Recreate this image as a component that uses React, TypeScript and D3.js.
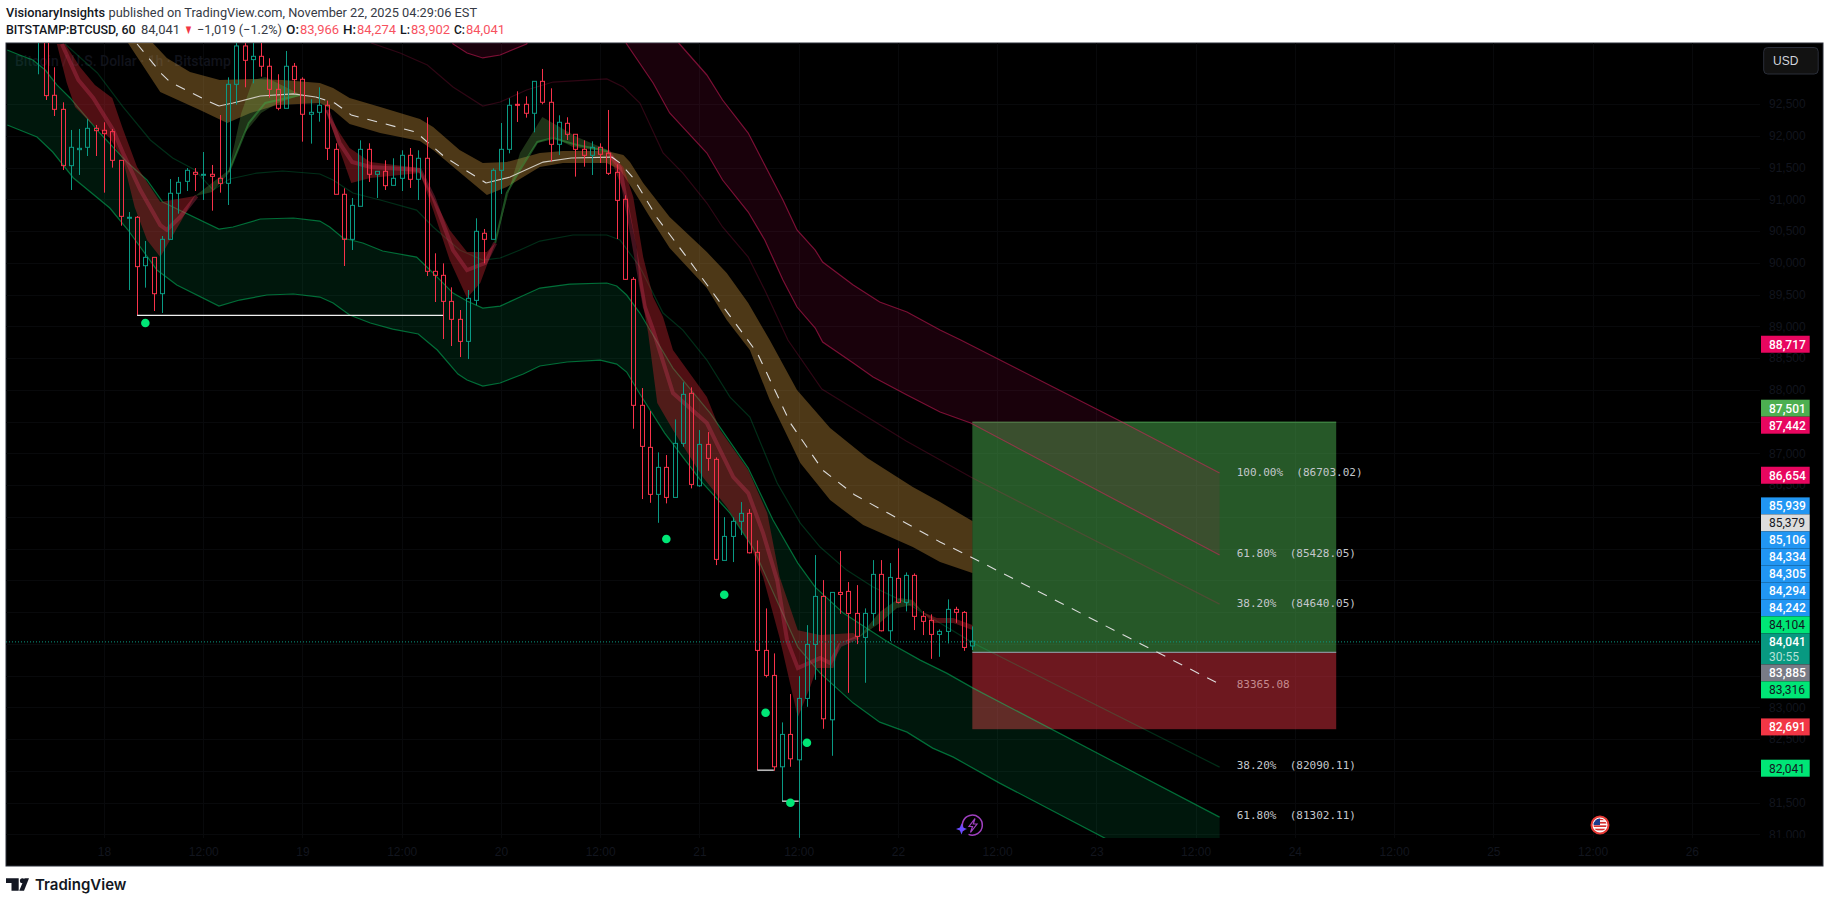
import * as d3 from "d3";
import React, { useRef, useEffect } from "react";

type Knot = [number, number]; // hours since Nov 18 00:00, price

// candles, one per hour, the first one is hour -8
const firstHour = -8;
const opens = [93600, 93750, 92637, 92416, 91529, 91781, 91818, 92117, 92086, 92065, 91613, 90705, 90716, 89954, 90085, 89513, 90369, 91094, 91282, 91424, 91388, 91393, 91330, 91251, 92810, 93414, 93199, 93251, 93094, 92731, 92432, 93094, 92889, 92338, 92369, 92480, 91786, 91078, 90369, 90889, 91786, 91393, 91440, 91219, 91330, 91692, 91314, 91645, 89865, 89802, 89392, 89109, 88762, 89408, 90464, 90369, 91456, 91786, 92495, 92495, 92354, 92857, 92527, 91865, 92196, 92023, 91786, 91692, 91818, 91724, 91424, 90999, 89739, 87755, 87093, 86353, 86778, 86305, 87156, 87944, 86488, 87140, 86904, 85313, 85691, 85928, 86054, 85440, 83896, 83502, 82063, 82573, 82173, 83140, 83990, 84746, 82803, 84809, 84825, 84478, 84100, 84478, 85093, 84205, 85030, 84652, 85077, 84432, 84369, 84148, 84195, 84542, 84494, 83966];
const highs = [94000, 94000, 93078, 92527, 92091, 92107, 92264, 92170, 92212, 92107, 91613, 90799, 90737, 90343, 90085, 90421, 91319, 91351, 91492, 91492, 91744, 91540, 92327, 92920, 93700, 93650, 93600, 93600, 93220, 92968, 93335, 93146, 92920, 92574, 92763, 92553, 91881, 91172, 91020, 91928, 91881, 91440, 91613, 91645, 91771, 91807, 91771, 92291, 90149, 89991, 89613, 89256, 89571, 90700, 90532, 91487, 92201, 92590, 92700, 92621, 92857, 93052, 92747, 92322, 92291, 92023, 91928, 91912, 91881, 92406, 91550, 91062, 89775, 88027, 87665, 87014, 86972, 87534, 88117, 88038, 87366, 87334, 86935, 85995, 85991, 86232, 86121, 85628, 84557, 83849, 82762, 83208, 83491, 84294, 85397, 85003, 84809, 85460, 84972, 84924, 84557, 85318, 85318, 85271, 85502, 85124, 85108, 84515, 84463, 84226, 84699, 84583, 84515, 84274];
const lows = [92968, 92563, 92311, 91461, 91146, 91382, 91681, 91681, 91104, 91498, 90584, 89571, 89172, 89608, 89240, 89209, 90369, 90773, 91130, 91130, 90988, 90820, 91104, 90910, 92490, 92763, 92826, 92931, 92600, 92401, 92432, 92669, 91907, 91876, 92222, 91618, 91078, 89949, 90201, 90889, 91272, 91020, 91146, 91219, 91130, 91178, 90988, 89791, 89382, 88799, 88689, 88515, 88484, 89329, 89991, 90369, 91083, 91723, 92217, 92285, 92054, 92495, 91598, 91697, 91933, 91356, 91513, 91382, 91571, 91382, 90374, 89729, 87386, 86279, 86220, 85905, 86211, 86305, 87103, 86447, 86473, 86724, 85239, 85313, 85287, 85712, 85423, 82010, 83471, 82000, 81522, 82063, 80944, 83008, 83433, 82661, 82236, 84472, 83228, 83995, 83386, 84283, 84195, 84042, 84636, 84510, 84216, 84137, 83763, 83795, 84006, 84330, 83889, 83902];
const closes = [93800, 92632, 92416, 91529, 91818, 91802, 92117, 92080, 92033, 91613, 90731, 90716, 89939, 90085, 89513, 90369, 91094, 91267, 91456, 91393, 91393, 91361, 91251, 92810, 93414, 93188, 93251, 93094, 92731, 92432, 93094, 92884, 92338, 92369, 92480, 91802, 91078, 90369, 90904, 91786, 91393, 91440, 91214, 91330, 91692, 91314, 91645, 89865, 89802, 89392, 89109, 88762, 89440, 90495, 90369, 91456, 91786, 92480, 92485, 92354, 92857, 92527, 91865, 92212, 92023, 91786, 91692, 91818, 91708, 91408, 90983, 89739, 87755, 87109, 86353, 86778, 86305, 87156, 87928, 86510, 87140, 86920, 85329, 85691, 85928, 86054, 85433, 83896, 83502, 82063, 82573, 82189, 83140, 83990, 84746, 82819, 84809, 84778, 84478, 84116, 84478, 85093, 84205, 85045, 84652, 85077, 84432, 84353, 84148, 84195, 84542, 84495, 83943, 84041];

// lower green channel
const greenUpper: Knot[] = [[-11.7, 93350], [-10.2, 93272], [-8.6, 93193], [-7.1, 93035], [-5.7, 92800], [-4.1, 92595], [-0.5, 92043], [2.9, 91570], [5.2, 91303], [7.1, 90957], [13.9, 90531], [15.6, 90563], [18.9, 90689], [22.9, 90705], [26.1, 90657], [27.3, 90563], [28.9, 90390], [31.3, 90311], [33.7, 90185], [37.8, 90090], [39.8, 89838], [42.2, 89523], [43.9, 89397], [45.8, 89287], [47.9, 89318], [50.3, 89460], [52.7, 89602], [56.3, 89665], [60.8, 89681], [62, 89634], [63.2, 89492], [64.8, 89208], [68.8, 88342], [73.3, 87633], [77.9, 86767], [80.9, 85948], [83.9, 85271], [86, 84893], [89.4, 84483], [94.8, 84027], [98.7, 83743], [101.9, 83538], [105.1, 83302], [134.9, 81270]];
const greenLower: Knot[] = [[-11.7, 92169], [-10.2, 92090], [-8.1, 91980], [-6.2, 91744], [-3.7, 91335], [0.7, 90862], [2.9, 90516], [6.4, 89886], [8.8, 89649], [13.9, 89319], [16.4, 89413], [19.7, 89492], [22.9, 89508], [26.1, 89460], [27.7, 89366], [29.7, 89177], [32.2, 89051], [34.9, 88956], [38, 88878], [40.3, 88626], [42.8, 88248], [43.9, 88153], [45.8, 88058], [47.9, 88106], [50.7, 88248], [52.7, 88374], [56, 88437], [60, 88468], [62, 88405], [63.2, 88279], [64.8, 87933], [67.8, 87318], [72.4, 86531], [75.7, 86058], [78.5, 85507], [83.9, 83948], [86.6, 83538], [90.6, 83066], [93.8, 82766], [97.1, 82609], [100.2, 82357], [102.7, 82215], [108.3, 81806], [121, 80940], [134.9, 79995]];
const greenThin: Knot[] = [[-4.7, 93445], [-0.8, 92988], [2.3, 92453], [5.6, 91933], [8.3, 91650], [11, 91460], [13.2, 91145], [15.2, 91319], [18.5, 91413], [21.6, 91445], [26.1, 91398], [27.7, 91303], [30.1, 91098], [33.4, 90988], [37.8, 90830], [39.8, 90563], [43, 90200], [45.8, 90043], [47.9, 90075], [50.3, 90200], [52.7, 90342], [56.7, 90437], [60.8, 90437], [62.4, 90358], [64.8, 89933], [67.6, 89208], [70, 88940], [72.9, 88468], [75.7, 87885], [78.1, 87570], [81.4, 86531], [84.2, 85901], [86.6, 85523], [89.8, 85160], [93, 84893], [97.1, 84640], [105.1, 84011], [134.9, 82058]];

// upper red channel
const redUpper: Knot[] = [[41.2, 93980], [67.2, 93823], [69.6, 93445], [72.9, 92957], [74.8, 92563], [77.9, 92043], [79.9, 91539], [82.1, 90988], [83.8, 90516], [86, 90200], [86.9, 90012], [90.6, 89649], [93.8, 89382], [97.1, 89224], [101.1, 88940], [103.6, 88783], [123.1, 87492], [134.9, 86688]];
const redLower: Knot[] = [[41.2, 93980], [42.2, 93445], [43.9, 93303], [45.8, 93225], [47.9, 93272], [51.1, 93445], [52.7, 93823], [61.8, 93823], [63.2, 93445], [66.4, 92831], [68.4, 92358], [72.9, 91728], [74.8, 91303], [77.9, 90799], [79.9, 90358], [82.1, 89728], [83.8, 89303], [86, 88972], [86.9, 88752], [90.6, 88421], [93, 88200], [97.1, 87917], [101.1, 87649], [104.8, 87476], [134.9, 85397]];
const redThin: Knot[] = [[32.3, 93461], [35.8, 93303], [39.1, 93114], [42.2, 92768], [45.8, 92468], [47.9, 92531], [51.1, 92720], [54.3, 92846], [60.8, 92894], [62.8, 92768], [64.8, 92516], [67.6, 91728], [70, 91413], [72.9, 90941], [74.8, 90563], [77.9, 90090], [79.9, 89570], [82.7, 88783], [86.8, 88011], [97, 87192], [104.8, 86625], [134.9, 84625]];

// brown mid band
const brownUpper: Knot[] = [[5.9, 93461], [7.6, 93225], [10.4, 93004], [14, 92878], [18, 92894], [21.6, 92878], [26.1, 92831], [27.7, 92752], [29.7, 92595], [33.4, 92453], [38.2, 92264], [39.8, 92138], [43, 91775], [45.8, 91571], [48.7, 91587], [52.7, 91728], [55.5, 91760], [60.8, 91760], [62.8, 91697], [63.6, 91587], [65.2, 91256], [68.4, 90720], [72.9, 90169], [75.3, 89838], [77.9, 89366], [80.5, 88783], [83.8, 87995], [87.8, 87397], [92.3, 86925], [97.8, 86468], [101.1, 86232], [105, 85932]];
const brownLower: Knot[] = [[2.9, 93461], [6.8, 92689], [11.6, 92405], [14.9, 92201], [17.7, 92358], [20.9, 92484], [26.1, 92516], [27.7, 92406], [29.7, 92185], [33.4, 92043], [38.2, 91917], [39.8, 91775], [43.4, 91382], [46.3, 91067], [48.7, 91193], [52.7, 91508], [55.5, 91571], [60.8, 91571], [62.4, 91461], [64, 91146], [66, 90720], [68.4, 90232], [72.9, 89602], [75.3, 89098], [78.1, 88625], [80.5, 87838], [82.1, 87413], [84.2, 86846], [87.8, 86263], [91.8, 85869], [97.8, 85523], [101.1, 85287], [105, 85113]];
const midDashed: Knot[][] = [
  [[4, 93445], [7, 92972], [8, 92846], [12.8, 92531], [13.9, 92468]],
  [[25.6, 92610], [27.9, 92516], [29.9, 92327], [37.7, 92059], [41.2, 91665], [46.2, 91256]],
  [[61.4, 91665], [62.4, 91571], [64, 91335], [66.9, 90705], [70.9, 90012], [74.9, 89303], [79, 88578], [83, 87476], [86.9, 86736], [90.8, 86342], [94.8, 86058], [101.1, 85602], [103.9, 85428], [134.9, 83365]],
];
const midSolid: Knot[][] = [
  [[13.9, 92468], [15.6, 92516], [18.9, 92626], [22.9, 92658], [25.6, 92610]],
  [[46.2, 91256], [49.1, 91350], [53.1, 91586], [56.5, 91650], [61.4, 91665]],
];

// fast ribbon, falling parts
const fastDown = [
  {
    upper: [[-4.7, 93445], [-2.9, 93083], [-1.1, 92799], [1, 92594], [2.2, 92138], [4, 91508], [5.6, 91193], [6.8, 90957], [11, 91051]] as Knot[],
    lower: [[-5.7, 93445], [-4.5, 92831], [-3.5, 92453], [-1.7, 92216], [0.7, 91964], [2.3, 91618], [3.7, 90878], [5.2, 90358], [6.8, 90090], [9.4, 90673], [11, 91051]] as Knot[],
    mid: [[-5.1, 93445], [-3.1, 92878], [-1.3, 92594], [1.1, 92091], [2.3, 91728], [4.4, 91145], [6.8, 90594], [7.6, 90516], [9.2, 90720], [11.2, 91051]] as Knot[],
  },
  {
    upper: [[26.7, 92453], [28.5, 92043], [29.7, 91807], [32.2, 91587], [38.2, 91492], [39.4, 91145], [41.8, 90516], [43.9, 90169], [46.3, 90169], [47.3, 90311]] as Knot[],
    lower: [[26.7, 92453], [28.2, 91886], [29.9, 91256], [32.2, 91335], [38.2, 91413], [39.8, 90830], [41.8, 90043], [43.9, 89444], [45.5, 89681], [47.3, 90311]] as Knot[],
    mid: [[27, 92405], [28.5, 91886], [30, 91587], [32.2, 91508], [38.2, 91460], [39.8, 91035], [42.2, 90200], [43.9, 89885], [46.1, 89996], [47.3, 90311]] as Knot[],
  },
  {
    upper: [[60.9, 91760], [62.8, 91508], [64, 91035], [65.2, 90090], [66.4, 89460], [67.6, 89145], [68.8, 88625], [72.9, 87885], [74.5, 87365], [77.9, 86735], [80.2, 86058], [81.7, 85050], [83.9, 84215], [86.6, 84137], [90.6, 84168], [91.2, 84090]] as Knot[],
    lower: [[60.9, 91760], [63.2, 90988], [64.4, 90248], [64.8, 89618], [65.8, 88893], [66.9, 87791], [68.8, 87365], [72.4, 86625], [75.3, 86153], [77.9, 85633], [79.7, 85050], [81.7, 84090], [83.9, 82845], [85.4, 83318], [86.2, 83617], [88.2, 83617], [89, 84011], [91.2, 84090]] as Knot[],
    mid: [[60.9, 91760], [62.4, 91492], [64, 90358], [65.4, 89303], [66.4, 88941], [68.8, 87948], [72.9, 87476], [76.1, 86625], [77.9, 86373], [79.7, 85743], [81.4, 85003], [82.6, 84058], [83.9, 83617], [86.6, 83775], [87.8, 83696], [89, 83980], [91.2, 84105]] as Knot[],
  },
  {
    upper: [[99, 84499], [100.7, 84405], [102.7, 84405], [105, 84294]] as Knot[],
    lower: [[99, 84499], [100.2, 84326], [102.7, 84326], [105, 84216]] as Knot[],
    mid: [] as Knot[],
  },
];
// fast ribbon, rising parts
const fastUp = [
  {
    upper: [[11, 91051], [15.1, 91461], [16.6, 92358], [18, 92878], [19.5, 92925], [23.9, 92642]] as Knot[],
    lower: [[11, 91051], [13.1, 91114], [15.1, 91413], [17, 92043], [19, 92358], [21, 92516], [23.9, 92642]] as Knot[],
    mid: [[15.1, 91429], [17.5, 92201], [19.5, 92516], [23.7, 92642]] as Knot[],
  },
  {
    upper: [[47.3, 90311], [48.7, 91035], [50.3, 91728], [53, 92295], [57.2, 91980], [60.9, 91775]] as Knot[],
    lower: [[47.3, 90311], [49.1, 91193], [50.7, 91571], [52.4, 91886], [54.3, 91980], [56.7, 91823], [60.9, 91744]] as Knot[],
    mid: [[47.3, 90311], [48.7, 91098], [50.3, 91460], [52.4, 91902], [54.3, 91965], [57.2, 91854], [60.9, 91760]] as Knot[],
  },
  {
    upper: [[91.2, 84090], [93.8, 84499], [96.2, 84720], [97.8, 84688], [99, 84499]] as Knot[],
    lower: [[91.2, 84090], [93.8, 84326], [95.9, 84562], [97.8, 84609], [99, 84499]] as Knot[],
    mid: [] as Knot[],
  },
];

const signalDots: Knot[] = [[5, 89051], [68, 85649], [75, 84772], [80, 82913], [83, 81496], [85, 82441]];
const sweepLines = [
  { from: 4, to: 41, price: 89172 },
  { from: 79, to: 81, price: 82010 },
  { from: 82, to: 84, price: 81522 },
];

const positionPrices = { target: 87490, entry: 83865, stop: 82655 };
const positionHours = [105, 149];

const fibLabels = [
  { text: "100.00%  (86703.02)", price: 86703.02 },
  { text: "61.80%  (85428.05)", price: 85428.05 },
  { text: "38.20%  (84640.05)", price: 84640.05 },
  { text: "83365.08", price: 83365.08 },
  { text: "38.20%  (82090.11)", price: 82090.11 },
  { text: "61.80%  (81302.11)", price: 81302.11 },
];

const priceTicks = d3.range(81000, 92501, 500);
const timeTicks = d3.range(0, 193, 12);

const lastPrice = 84041;
const priceTags = [
  { price: 88717, bg: "#e8065f", fg: "#ffffff" },
  { price: 87501, bg: "#4caf50", fg: "#ffffff" },
  { price: 87442, bg: "#e8065f", fg: "#ffffff" },
  { price: 86654, bg: "#e8065f", fg: "#ffffff" },
  { price: 85939, bg: "#2196f3", fg: "#ffffff" },
  { price: 85379, bg: "#dcdcdc", fg: "#131722" },
  { price: 85106, bg: "#2196f3", fg: "#ffffff" },
  { price: 84334, bg: "#2196f3", fg: "#ffffff" },
  { price: 84305, bg: "#2196f3", fg: "#ffffff" },
  { price: 84294, bg: "#2196f3", fg: "#ffffff" },
  { price: 84242, bg: "#2196f3", fg: "#ffffff" },
  { price: 84104, bg: "#00e676", fg: "#131722" },
  { price: 84041, bg: "#089981", fg: "#ffffff" },
  { price: 83885, bg: "#787b86", fg: "#ffffff" },
  { price: 83316, bg: "#00e676", fg: "#131722" },
  { price: 82691, bg: "#f23645", fg: "#ffffff" },
  { price: 82041, bg: "#00e676", fg: "#131722" },
];

const UP = "#0a9a84";
const DOWN = "#f7324a";
const DIM = "#12151e";
const SANS = "'Liberation Sans', sans-serif";

const hourMs = 3600 * 1000;
const day0 = Date.UTC(2025, 10, 18);
const toDate = (h: number) => new Date(day0 + h * hourMs);

const App: React.FC = () => {
  const svgRef = useRef<SVGSVGElement>(null);

  useEffect(() => {
    const svg = d3.select(svgRef.current);
    svg.selectAll("*").remove();

    const paneLeft = 6, paneRight = 1760, paneTop = 43, paneBottom = 838;

    const x = d3.scaleUtc().domain([toDate(0), toDate(192)]).range([104, 1691.8]);
    const y = d3.scaleLinear().domain([81000, 92500]).range([834.3, 104]);
    const px = (h: number) => x(toDate(h));

    const line = d3.line<Knot>().x(d => px(d[0])).y(d => y(d[1]));
    const band = (a: Knot[], b: Knot[]) => line(a.concat([...b].reverse())) + "Z";

    svg.append("rect").attr("width", 1829).attr("height", 903).attr("fill", "#fff");
    svg.append("rect")
      .attr("x", paneLeft).attr("y", paneTop)
      .attr("width", 1823 - paneLeft).attr("height", 866 - paneTop)
      .attr("fill", "#000").attr("stroke", "#2a2e39");

    const defs = svg.append("defs");
    defs.append("clipPath").attr("id", "pane").append("rect")
      .attr("x", paneLeft).attr("y", paneTop)
      .attr("width", paneRight - paneLeft).attr("height", paneBottom - paneTop);
    defs.append("clipPath").attr("id", "priceScale").append("rect")
      .attr("x", 1760).attr("y", paneTop).attr("width", 62).attr("height", paneBottom - paneTop);
    defs.append("clipPath").attr("id", "flag").append("circle")
      .attr("cx", 1600).attr("cy", 825).attr("r", 6.5);

    const pane = svg.append("g").attr("clip-path", "url(#pane)");

    // grid
    pane.append("g").attr("stroke", "#08090b")
      .selectAll("line").data(priceTicks).join("line")
      .attr("x1", paneLeft).attr("x2", paneRight)
      .attr("y1", d => Math.round(y(d)) + 0.5).attr("y2", d => Math.round(y(d)) + 0.5);
    pane.append("g").attr("stroke", "#08090b")
      .selectAll("line").data(timeTicks).join("line")
      .attr("x1", d => Math.round(px(d)) + 0.5).attr("x2", d => Math.round(px(d)) + 0.5)
      .attr("y1", paneTop).attr("y2", paneBottom);

    pane.append("text")
      .attr("x", 15).attr("y", 66)
      .attr("font-family", "Roboto, sans-serif").attr("font-size", 14).attr("font-weight", 500)
      .attr("fill", "#11131b")
      .text("Bitcoin / U.S. Dollar · 1h · Bitstamp");

    // long position box sits under the channels
    const boxX = px(positionHours[0]);
    const boxW = px(positionHours[1]) - boxX;
    pane.append("rect")
      .attr("x", boxX).attr("width", boxW)
      .attr("y", y(positionPrices.target)).attr("height", y(positionPrices.entry) - y(positionPrices.target))
      .attr("fill", "rgba(76,175,80,0.5)");
    pane.append("rect")
      .attr("x", boxX).attr("width", boxW)
      .attr("y", y(positionPrices.entry)).attr("height", y(positionPrices.stop) - y(positionPrices.entry))
      .attr("fill", "rgba(242,54,69,0.45)");
    pane.append("line")
      .attr("x1", boxX).attr("x2", boxX + boxW)
      .attr("y1", y(positionPrices.target)).attr("y2", y(positionPrices.target))
      .attr("stroke", "#4a9a4e");
    pane.append("line")
      .attr("x1", boxX).attr("x2", boxX + boxW)
      .attr("y1", y(positionPrices.entry)).attr("y2", y(positionPrices.entry))
      .attr("stroke", "#8a8d96").attr("stroke-width", 1.2);

    // channels
    pane.append("path").attr("d", band(greenUpper, greenLower)).attr("fill", "rgba(0,230,118,0.1)");
    pane.append("path").attr("d", band(redUpper, redLower)).attr("fill", "rgba(233,10,100,0.105)");
    [greenUpper, greenLower].forEach(k =>
      pane.append("path").attr("d", line(k)).attr("fill", "none")
        .attr("stroke", "rgba(0,230,118,0.45)").attr("stroke-width", 1.2));
    [redUpper, redLower].forEach(k =>
      pane.append("path").attr("d", line(k)).attr("fill", "none")
        .attr("stroke", "rgba(233,30,99,0.5)").attr("stroke-width", 1.2));
    pane.append("path").attr("d", line(greenThin)).attr("fill", "none")
      .attr("stroke", "rgba(0,230,118,0.2)").attr("stroke-width", 1.2);
    pane.append("path").attr("d", line(redThin)).attr("fill", "none")
      .attr("stroke", "rgba(233,30,99,0.2)").attr("stroke-width", 1.2);

    pane.append("path").attr("d", band(brownUpper, brownLower)).attr("fill", "rgba(255,185,75,0.3)");

    // fast ribbon
    fastDown.forEach(r => {
      pane.append("path").attr("d", band(r.upper, r.lower)).attr("fill", "rgba(190,35,45,0.42)");
      if (r.mid.length) pane.append("path").attr("d", line(r.mid)).attr("fill", "none")
        .attr("stroke", "rgba(225,60,100,0.3)").attr("stroke-width", 4);
    });
    fastUp.forEach(r => {
      pane.append("path").attr("d", band(r.upper, r.lower)).attr("fill", "rgba(120,200,90,0.25)");
      if (r.mid.length) pane.append("path").attr("d", line(r.mid)).attr("fill", "none")
        .attr("stroke", "rgba(60,170,70,0.45)").attr("stroke-width", 2);
    });

    // mid line
    midDashed.forEach(k =>
      pane.append("path").attr("d", line(k)).attr("fill", "none")
        .attr("stroke", "#dcdcdc").attr("stroke-width", 1.1).attr("stroke-dasharray", "10 9"));
    midSolid.forEach(k =>
      pane.append("path").attr("d", line(k)).attr("fill", "none")
        .attr("stroke", "#cfcbc0").attr("stroke-width", 1.2));

    // candles
    const bars = opens.map((o, i) => ({
      h: firstHour + i, o, high: highs[i], low: lows[i], c: closes[i],
    }));
    const candle = pane.append("g").selectAll("g").data(bars).join("g")
      .attr("stroke", d => d.c >= d.o ? UP : DOWN)
      .attr("fill", "none");
    const cx = (d: { h: number }) => Math.round(px(d.h)) + 0.5;
    candle.append("line")
      .attr("x1", cx).attr("x2", cx)
      .attr("y1", d => y(d.high)).attr("y2", d => y(Math.max(d.o, d.c)));
    candle.append("line")
      .attr("x1", cx).attr("x2", cx)
      .attr("y1", d => y(Math.min(d.o, d.c))).attr("y2", d => y(d.low));
    candle.append("rect")
      .attr("x", d => cx(d) - 2).attr("width", 4)
      .attr("y", d => y(Math.max(d.o, d.c)))
      .attr("height", d => Math.max(1, y(Math.min(d.o, d.c)) - y(Math.max(d.o, d.c))));

    // swept lows
    pane.append("g").attr("stroke", "#f0f0f0").attr("stroke-width", 1.2)
      .selectAll("line").data(sweepLines).join("line")
      .attr("x1", d => px(d.from)).attr("x2", d => px(d.to))
      .attr("y1", d => y(d.price)).attr("y2", d => y(d.price));

    pane.append("g").attr("fill", "#00e676")
      .selectAll("circle").data(signalDots).join("circle")
      .attr("cx", d => px(d[0])).attr("cy", d => y(d[1])).attr("r", 4.3);

    // last price line
    pane.append("line")
      .attr("x1", paneLeft).attr("x2", paneRight)
      .attr("y1", y(lastPrice) + 0.7).attr("y2", y(lastPrice) + 0.7)
      .attr("stroke", "#089981").attr("stroke-dasharray", "1 2");

    // fib texts
    pane.append("g")
      .attr("font-family", "'DejaVu Sans Mono', monospace").attr("font-size", 11)
      .selectAll("text").data(fibLabels).join("text")
      .attr("x", 1236.7).attr("y", d => y(d.price)).attr("dy", "0.36em")
      .attr("fill", d => d.text.startsWith("8") ? "#c58a8e" : "#c4c7cc")
      .style("white-space", "pre")
      .text(d => d.text);

    // lightning marker
    const bolt = pane.append("g").attr("transform", "translate(972.5,825.5)");
    bolt.append("path")
      .attr("d", "M-8.5,5.2A10,10 0 1 1 -4,8.9")
      .attr("fill", "none").attr("stroke", "#a040c0").attr("stroke-width", 1.5);
    bolt.append("path")
      .attr("d", "M2.5,-7L-3.5,1H0L-2,7L4.5,-1.5H0.8Z")
      .attr("fill", "none").attr("stroke", "#a040c0").attr("stroke-width", 1.2);
    bolt.append("path")
      .attr("d", "M-11,-2L-9.4,2L-5.5,3.5L-9.4,5L-11,9L-12.6,5L-16.5,3.5L-12.6,2Z")
      .attr("fill", "#6a4cff");

    // earnings style flag
    const flag = pane.append("g");
    flag.append("circle").attr("cx", 1600).attr("cy", 825).attr("r", 8.5)
      .attr("fill", "#fff").attr("stroke", "#e53935").attr("stroke-width", 2);
    const flagIn = flag.append("g").attr("clip-path", "url(#flag)");
    d3.range(0, 4).forEach(i =>
      flagIn.append("rect").attr("x", 1593).attr("y", 818.5 + i * 3.4)
        .attr("width", 14).attr("height", 1.7).attr("fill", "#d32f2f"));
    flagIn.append("rect").attr("x", 1593).attr("y", 818).attr("width", 7).attr("height", 7).attr("fill", "#1a3c8f");

    // time axis
    const xAxis = d3.axisBottom(x)
      .tickValues(timeTicks.map(toDate))
      .tickSize(0).tickPadding(9)
      .tickFormat(d => (d as Date).getUTCHours() === 0 ? String((d as Date).getUTCDate()) : "12:00");
    svg.append("g").attr("transform", `translate(0,${paneBottom})`).call(xAxis)
      .call(g => g.select(".domain").remove())
      .call(g => g.selectAll("text").attr("fill", DIM).attr("font-family", SANS).attr("font-size", 12));

    // price axis
    const yAxis = d3.axisRight(y)
      .tickValues(priceTicks).tickSize(0).tickPadding(0)
      .tickFormat(d3.format(","));
    svg.append("g").attr("clip-path", "url(#priceScale)").append("g")
      .attr("transform", "translate(1769,0)").call(yAxis)
      .call(g => g.select(".domain").remove())
      .call(g => g.selectAll("text").attr("fill", DIM).attr("font-family", SANS).attr("font-size", 12));

    // tags stack away from the last price tag
    const lastIdx = priceTags.findIndex(t => t.price === lastPrice);
    const tagY = priceTags.map(t => y(t.price));
    tagY[lastIdx] += 0.7;
    for (let i = lastIdx - 1; i >= 0; i--) tagY[i] = Math.min(tagY[i], tagY[i + 1] - 17);
    for (let i = lastIdx + 1; i < priceTags.length; i++) {
      tagY[i] = Math.max(tagY[i], tagY[i - 1] + (i === lastIdx + 1 ? 31 : 17));
    }
    const tags = svg.append("g").selectAll("g").data(priceTags).join("g")
      .attr("transform", (_, i) => `translate(1761,${tagY[i]})`);
    tags.append("rect")
      .attr("y", -8.5).attr("width", 48.7)
      .attr("height", d => d.price === lastPrice ? 31 : 17)
      .attr("fill", d => d.bg);
    tags.append("text")
      .attr("x", 8).attr("dy", "0.36em")
      .attr("font-family", "Roboto, sans-serif").attr("font-size", 12)
      .attr("font-weight", d => d.fg === "#ffffff" ? 500 : 400)
      .attr("fill", d => d.fg)
      .text(d => d3.format(",")(d.price));
    tags.filter(d => d.price === lastPrice).append("text")
      .attr("x", 8).attr("y", 15).attr("dy", "0.36em")
      .attr("font-family", "Roboto, sans-serif").attr("font-size", 12)
      .attr("fill", "#b5e2d8")
      .text("30:55");

    // currency button
    svg.append("rect")
      .attr("x", 1763.7).attr("y", 47.5).attr("width", 54.5).attr("height", 26.5).attr("rx", 4)
      .attr("fill", "#121212").attr("stroke", "#2a2e39");
    svg.append("text")
      .attr("x", 1773).attr("y", 65)
      .attr("font-family", SANS).attr("font-size", 12).attr("fill", "#d1d4dc")
      .text("USD");

    // header
    const head = svg.append("g").attr("font-family", "Roboto, sans-serif").attr("font-size", 13).attr("fill", "#131722");
    const put = (tx: number, ty: number, s: string, w: number, weight = 400, fill = "#131722") =>
      head.append("text").attr("x", tx).attr("y", ty).attr("font-weight", weight).attr("fill", fill)
        .attr("textLength", w).attr("lengthAdjust", "spacingAndGlyphs").text(s);
    put(6, 17, "VisionaryInsights", 99, 500);
    put(108.6, 17, "published on TradingView.com, November 22, 2025 04:29:06 EST", 368.5, 400, "#363a45");
    put(6, 34, "BITSTAMP:BTCUSD, 60", 129.5, 500);
    put(141, 34, "84,041", 39, 400, "#363a45");
    put(184, 34, "▼", 9, 400, "#f23645");
    put(197, 34, "−1,019 (−1.2%)", 85, 400, "#363a45");
    put(286, 34, "O:", 13, 500);
    put(300, 34, "83,966", 39, 400, "#f7525f");
    put(343, 34, "H:", 13, 500);
    put(357, 34, "84,274", 39, 400, "#f7525f");
    put(400, 34, "L:", 10, 500);
    put(411, 34, "83,902", 39, 400, "#f7525f");
    put(454, 34, "C:", 11, 500);
    put(466, 34, "84,041", 39, 400, "#f7525f");

    // logo
    const logo = svg.append("g").attr("fill", "#131722");
    logo.append("path").attr("d", "M6,878.3H18.7V890.7H11.5V883H6Z");
    logo.append("circle").attr("cx", 22.4).attr("cy", 880.8).attr("r", 2.5);
    logo.append("path").attr("d", "M24.5,878.3H29L24,890.7H19.2Z");
    logo.append("text")
      .attr("x", 35).attr("y", 889.5)
      .attr("font-family", "Inter, sans-serif").attr("font-size", 15).attr("font-weight", 600)
      .text("TradingView");
  }, []);

  return <svg ref={svgRef} width={1829} height={903} style={{ position: "fixed", left: 0, top: 0 }}></svg>;
};

export default App;
